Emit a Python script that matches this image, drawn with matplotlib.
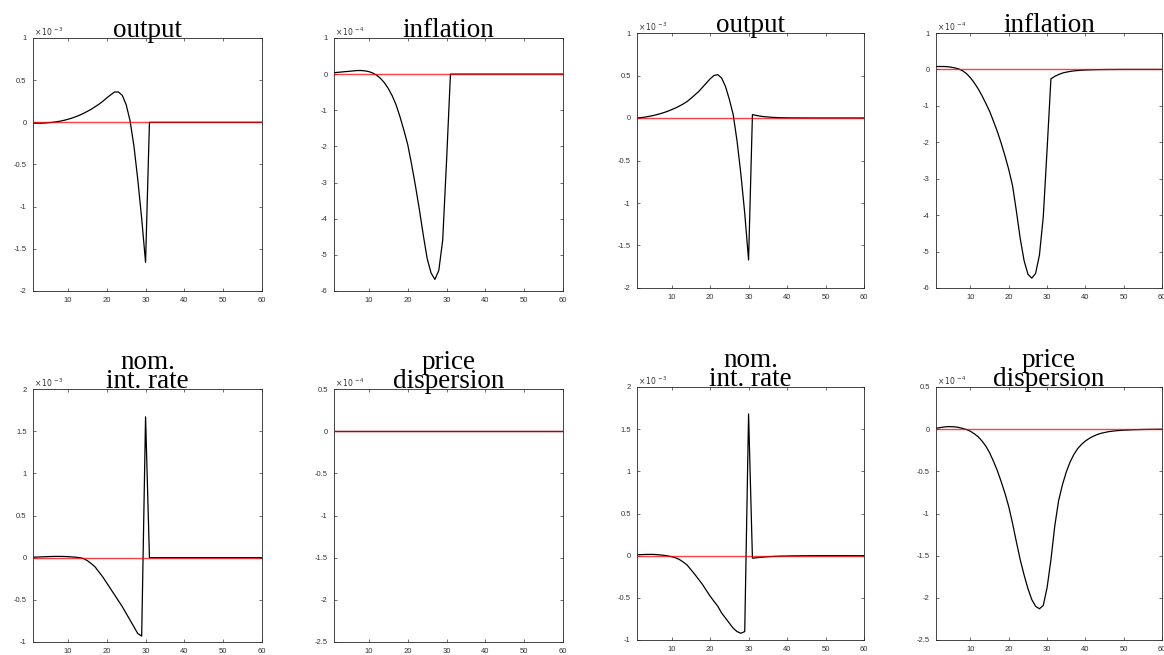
import matplotlib
matplotlib.use("Agg")
import matplotlib.pyplot as plt
from matplotlib.ticker import FixedLocator, FuncFormatter

plt.rcParams['axes.unicode_minus'] = False

# ---------------- data ----------------
periods = list(range(1, 61))

# left block (values in units of 10^exp)
output_A = [-0.01, -0.01, -0.01, -0.008, -0.004, 0.0, 0.006, 0.014, 0.024, 0.036,
            0.05, 0.066, 0.085, 0.106, 0.13, 0.155, 0.185, 0.215, 0.25, 0.29,
            0.325, 0.36, 0.36, 0.32, 0.21, 0.02, -0.28, -0.68, -1.14, -1.66,
            0, 0, 0, 0, 0, 0, 0, 0, 0, 0,
            0, 0, 0, 0, 0, 0, 0, 0, 0, 0,
            0, 0, 0, 0, 0, 0, 0, 0, 0, 0]
inflation_A = [0.04, 0.05, 0.06, 0.07, 0.08, 0.09, 0.1, 0.1, 0.09, 0.07,
               0.03, -0.03, -0.12, -0.24, -0.4, -0.6, -0.85, -1.18, -1.55, -1.95,
               -2.5, -3.1, -3.75, -4.45, -5.1, -5.5, -5.68, -5.43, -4.6, -2.4,
               0, 0, 0, 0, 0, 0, 0, 0, 0, 0,
               0, 0, 0, 0, 0, 0, 0, 0, 0, 0,
               0, 0, 0, 0, 0, 0, 0, 0, 0, 0]
rate_A = [0.005, 0.007, 0.009, 0.011, 0.013, 0.014, 0.015, 0.015, 0.014, 0.012,
          0.009, 0.005, 0.0, -0.01, -0.035, -0.07, -0.11, -0.17, -0.23, -0.3,
          -0.37, -0.44, -0.51, -0.58, -0.66, -0.74, -0.82, -0.9, -0.93, 1.67,
          0, 0, 0, 0, 0, 0, 0, 0, 0, 0,
          0, 0, 0, 0, 0, 0, 0, 0, 0, 0,
          0, 0, 0, 0, 0, 0, 0, 0, 0, 0]
dispersion_A = [0, 0, 0, 0, 0, 0, 0, 0, 0, 0,
                0, 0, 0, 0, 0, 0, 0, 0, 0, 0,
                0, 0, 0, 0, 0, 0, 0, 0, 0, 0,
                0, 0, 0, 0, 0, 0, 0, 0, 0, 0,
                0, 0, 0, 0, 0, 0, 0, 0, 0, 0,
                0, 0, 0, 0, 0, 0, 0, 0, 0, 0]

# right block
output_B = [0.0, 0.004, 0.01, 0.018, 0.027, 0.038, 0.05, 0.064, 0.08, 0.098,
            0.118, 0.14, 0.165, 0.193, 0.23, 0.27, 0.31, 0.36, 0.41, 0.46,
            0.5, 0.51, 0.47, 0.37, 0.22, 0.04, -0.27, -0.66, -1.12, -1.67,
            0.04, 0.03, 0.022, 0.016, 0.012, 0.008, 0.006, 0.004, 0.003, 0.002,
            0.0015, 0.001, 0.001, 0.0005, 0.0005, 0, 0, 0, 0, 0,
            0, 0, 0, 0, 0, 0, 0, 0, 0, 0]
inflation_B = [0.08, 0.08, 0.08, 0.075, 0.06, 0.04, 0.01, -0.04, -0.12, -0.23,
               -0.37, -0.53, -0.72, -0.93, -1.15, -1.42, -1.7, -2.02, -2.37, -2.75,
               -3.2, -3.9, -4.65, -5.25, -5.62, -5.73, -5.6, -5.1, -4.05, -2.2,
               -0.26, -0.19, -0.14, -0.1, -0.075, -0.055, -0.04, -0.03, -0.022, -0.016,
               -0.012, -0.009, -0.006, -0.005, -0.003, -0.002, -0.002, -0.001, -0.001, 0,
               0, 0, 0, 0, 0, 0, 0, 0, 0, 0]
rate_B = [0.01, 0.012, 0.014, 0.015, 0.015, 0.013, 0.009, 0.004, -0.003, -0.012,
          -0.025, -0.045, -0.075, -0.11, -0.165, -0.22, -0.28, -0.34, -0.41, -0.48,
          -0.54, -0.6, -0.68, -0.74, -0.8, -0.86, -0.9, -0.92, -0.9, 1.68,
          -0.03, -0.025, -0.02, -0.016, -0.013, -0.01, -0.008, -0.006, -0.005, -0.004,
          -0.003, -0.002, -0.002, -0.001, -0.001, 0, 0, 0, 0, 0,
          0, 0, 0, 0, 0, 0, 0, 0, 0, 0]
dispersion_B = [0.01, 0.018, 0.025, 0.03, 0.03, 0.027, 0.02, 0.008, -0.005, -0.025,
                -0.055, -0.09, -0.14, -0.2, -0.28, -0.38, -0.49, -0.62, -0.76, -0.92,
                -1.12, -1.34, -1.55, -1.73, -1.89, -2.02, -2.1, -2.13, -2.09, -1.88,
                -1.55, -1.15, -0.85, -0.66, -0.51, -0.39, -0.3, -0.23, -0.18, -0.14,
                -0.11, -0.085, -0.065, -0.05, -0.04, -0.03, -0.024, -0.019, -0.015, -0.012,
                -0.01, -0.008, -0.006, -0.005, -0.004, -0.003, -0.002, -0.002, -0.001, -0.001]

steady_state = [0] * 60

titles = ["output", "inflation", "nom.\nint. rate", "price\ndispersion"]
exponents = [-3, -4, -3, -4]
ylims = [(-2, 1), (-6, 1), (-1, 2), (-2.5, 0.5)]
ysteps = [0.5, 1, 0.5, 0.5]
xticks = [10, 20, 30, 40, 50, 60]

W, H = 1164, 655
fig = plt.figure(figsize=(W / 100, H / 100), dpi=100)
fig.patch.set_facecolor('white')

# pixel boxes (left, top, right, bottom)
boxes_A = [(33, 38, 262, 291), (334, 38, 563, 291), (33, 389, 262, 642), (334, 389, 563, 642)]
boxes_B = [(637, 33, 864, 288), (936, 33, 1162, 288), (637, 387, 864, 640), (936, 387, 1162, 640)]

series_A = [output_A, inflation_A, rate_A, dispersion_A]
series_B = [output_B, inflation_B, rate_B, dispersion_B]

tick_col = '#333333'
title_font = 'Liberation Serif'


def make_panel(box, data, title, e, ylim, step):
    l, t, r, b = box
    ax = fig.add_axes([l / W, 1 - b / H, (r - l) / W, (b - t) / H])
    scale = 10.0 ** e
    ax.plot(periods, [v * scale for v in data], color='black', lw=0.9, zorder=2)
    ax.plot(periods, [v * scale for v in steady_state], color='red', lw=1.0, alpha=0.75, zorder=3)
    ax.set_xlim(1, 60)
    ax.set_ylim(ylim[0] * scale, ylim[1] * scale)
    n = int(round((ylim[1] - ylim[0]) / step))
    yt = [(ylim[0] + i * step) * scale for i in range(n + 1)]
    ax.yaxis.set_major_locator(FixedLocator(yt))
    ax.xaxis.set_major_locator(FixedLocator(xticks))
    ax.yaxis.set_major_formatter(FuncFormatter(lambda v, p: f"{round(v / scale, 6):g}"))
    ax.tick_params(direction='in', length=2.3, width=0.5, top=True, right=True,
                   labelsize=5.5, colors=tick_col, labelcolor=tick_col)
    ax.tick_params(axis='x', pad=4)
    ax.tick_params(axis='y', pad=4.5)
    for lab in ax.get_xticklabels() + ax.get_yticklabels():
        lab.set_family('Liberation Sans')
    for s in ax.spines.values():
        s.set_linewidth(0.6)
        s.set_color('#262626')
    ax.set_title(title, fontsize=19.5, family=title_font, pad=1, linespacing=0.64)
    ax.text(0.005, 1.0, r'$\times\,10^{\,%d}$' % e, transform=ax.transAxes,
            fontsize=5.5, color=tick_col, va='bottom', ha='left')
    return ax


for box, data, title, e, yl, st in zip(boxes_A, series_A, titles, exponents, ylims, ysteps):
    make_panel(box, data, title, e, yl, st)
for box, data, title, e, yl, st in zip(boxes_B, series_B, titles, exponents, ylims, ysteps):
    make_panel(box, data, title, e, yl, st)

fig.savefig('out.png', dpi=100, facecolor='white')
